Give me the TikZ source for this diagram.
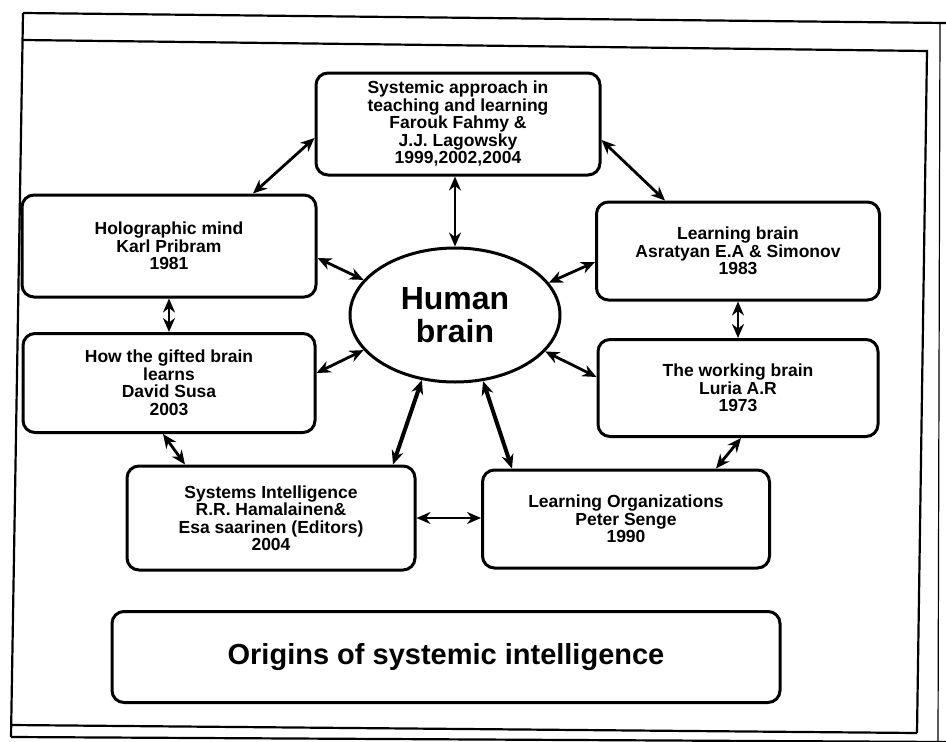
\documentclass[tikz,border=0pt]{standalone}
\usepackage{fontspec}
\setmainfont{Liberation Sans}
\usetikzlibrary{shapes.geometric,arrows.meta}
\begin{document}
\begin{tikzpicture}[x=1pt,y=-1pt,node distance=137pt,
    box/.style={rectangle, rounded corners=12pt, draw, line width=3pt, align=center, inner sep=2pt, font=\fontsize{17.5}{17.5}\selectfont\bfseries},
    hub/.style={ellipse, draw, line width=3pt, minimum width=210pt, minimum height=134pt, inner sep=0pt, align=center, font=\fontsize{32}{33}\selectfont\bfseries},
    link/.style={{Stealth[length=14pt,width=12pt]}-{Stealth[length=14pt,width=12pt]}, line width=2.8pt},
    thicklink/.style={link, line width=4pt}]

    \useasboundingbox (0,0) rectangle (946,742);

    % frame of the scanned page
    \draw[line width=2.2pt] (23,13) -- (946,23);
    \draw[line width=2.2pt] (23,13) -- (11,737);
    \draw[line width=2.2pt] (23,40) -- (927,51) -- (917,733);
    \draw[line width=2.2pt] (11,725) -- (917,733);
    \draw[line width=2.2pt] (11,737) -- (946,742);
    \draw[line width=1.2pt] (940,23) -- (938,742);

    \node(brain)[hub] at (455,315) {Human\\brain};

    \node(sys)[box, minimum width=284pt, minimum height=102pt] at (458,124) {Systemic approach in\\teaching and learning\\Farouk Fahmy \&\\J.J. Lagowsky\\1999,2002,2004};

    \node(holo)[box, minimum width=294pt, minimum height=102pt] at (169,246) {Holographic mind\\Karl Pribram\\1981};
    \node(gifted)[box, minimum width=292pt, minimum height=99pt, below of=holo] {How the gifted brain\\learns\\David Susa\\2003};

    \node(lbrain)[box, minimum width=283pt, minimum height=98pt] at (738,251) {Learning brain\\Asratyan E.A \& Simonov\\1983};
    \node(work)[box, minimum width=280pt, minimum height=97pt, below of=lbrain] {The working brain\\Luria A.R\\1973};

    \node(sysint)[box, minimum width=288pt, minimum height=104pt] at (271,518) {Systems Intelligence\\R.R. Hamalainen\&\\Esa saarinen (Editors)\\2004};
    \node(lorg)[box, minimum width=287pt, minimum height=98pt] at (626,519) {Learning Organizations\\Peter Senge\\1990};

    \node(origins)[box, minimum width=668pt, minimum height=91pt, font=\fontsize{29}{30}\selectfont\bfseries] at (446,657) {Origins of systemic intelligence};

    \draw[link] (brain.north) -- (brain.north |- sys.south);
    \draw[link] ([yshift=-14pt]sys.west) -- ([xshift=84pt]holo.north);
    \draw[link] ([yshift=-16pt]sys.east) -- ([xshift=-73pt]lbrain.north);
    \draw[link] ([yshift=-12pt]holo.east) -- (brain.159);
    \draw[link] ([yshift=-11pt]lbrain.west) -- (brain.19);
    \draw[link] (holo.south) -- (holo.south |- gifted.north);
    \draw[link] (lbrain.south) -- (lbrain.south |- work.north);
    \draw[link] ([yshift=10pt]gifted.east) -- (brain.201);
    \draw[link] ([yshift=11pt]work.west) -- (brain.338);
    \draw[link] ([xshift=-6pt]gifted.south) -- ([xshift=-86pt]sysint.north);
    \draw[link] ([xshift=3pt]work.south) -- ([xshift=90pt]lorg.north);
    \draw[thicklink] (brain.243) -- ([xshift=122pt]sysint.north);
    \draw[thicklink] (brain.293) -- ([xshift=-114pt]lorg.north);
    \draw[link] (sysint.east) -- (sysint.east -| lorg.west);
  \end{tikzpicture}
\end{document}
